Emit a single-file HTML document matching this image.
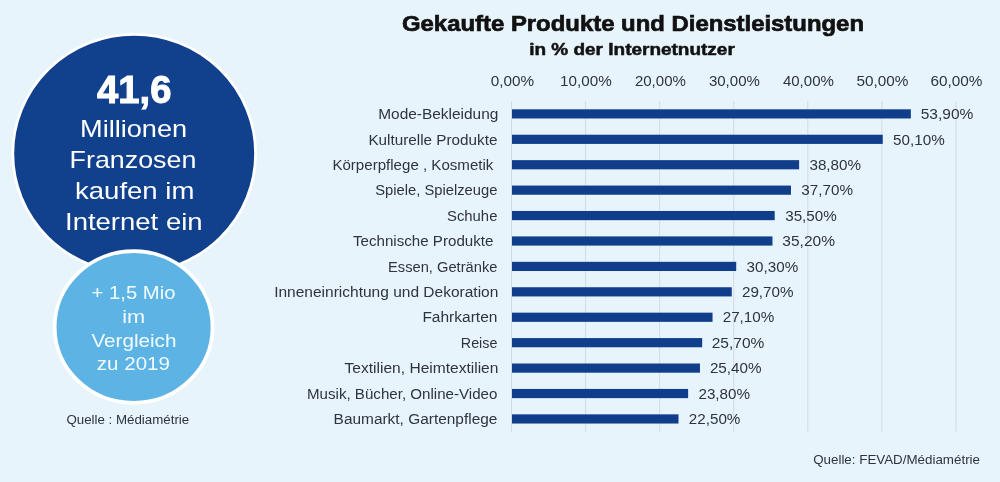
<!DOCTYPE html>
<html><head><meta charset="utf-8"><style>
html,body{margin:0;padding:0;}
body{width:1000px;height:482px;overflow:hidden;background:#e8f4fc;font-family:"Liberation Sans",sans-serif;}
svg{position:absolute;left:0;top:0;will-change:transform;}
</style></head><body>
<svg width="1000" height="482" viewBox="0 0 1000 482" font-family="Liberation Sans">
<rect width="1000" height="482" fill="#e8f4fc"/>
<g><line x1="511.5" y1="101" x2="511.5" y2="431.5" stroke="#d3d9e0" stroke-width="1"/>
<line x1="585.58" y1="101" x2="585.58" y2="431.5" stroke="#d3d9e0" stroke-width="1"/>
<line x1="659.66" y1="101" x2="659.66" y2="431.5" stroke="#d3d9e0" stroke-width="1"/>
<line x1="733.74" y1="101" x2="733.74" y2="431.5" stroke="#d3d9e0" stroke-width="1"/>
<line x1="807.8199999999999" y1="101" x2="807.8199999999999" y2="431.5" stroke="#d3d9e0" stroke-width="1"/>
<line x1="881.9" y1="101" x2="881.9" y2="431.5" stroke="#d3d9e0" stroke-width="1"/>
<line x1="955.98" y1="101" x2="955.98" y2="431.5" stroke="#d3d9e0" stroke-width="1"/>
</g>
<g fill="#113e8b"><rect x="512" y="109.30" width="398.86" height="9.2"/>
<rect x="512" y="134.72" width="370.74" height="9.2"/>
<rect x="512" y="160.14" width="287.12" height="9.2"/>
<rect x="512" y="185.56" width="278.98" height="9.2"/>
<rect x="512" y="210.98" width="262.70" height="9.2"/>
<rect x="512" y="236.40" width="260.48" height="9.2"/>
<rect x="512" y="261.82" width="224.22" height="9.2"/>
<rect x="512" y="287.24" width="219.78" height="9.2"/>
<rect x="512" y="312.66" width="200.54" height="9.2"/>
<rect x="512" y="338.08" width="190.18" height="9.2"/>
<rect x="512" y="363.50" width="187.96" height="9.2"/>
<rect x="512" y="388.92" width="176.12" height="9.2"/>
<rect x="512" y="414.34" width="166.50" height="9.2"/>
</g>
<ellipse cx="134.2" cy="153.6" rx="121.4" ry="119.2" fill="#11418d" stroke="#ffffff" stroke-width="2.8"/>
<ellipse cx="133.6" cy="327" rx="78.95" ry="75.9" fill="#5db4e4" stroke="#ffffff" stroke-width="3.8"/>
<text x="378.20" y="119.10" textLength="120.20" lengthAdjust="spacingAndGlyphs" font-size="14" fill="#2f343a">Mode-Bekleidung</text>
<text x="920.72" y="119.10" textLength="52.60" lengthAdjust="spacingAndGlyphs" font-size="14" fill="#2f343a">53,90%</text>
<text x="368.40" y="144.52" textLength="129.00" lengthAdjust="spacingAndGlyphs" font-size="14" fill="#2f343a">Kulturelle Produkte</text>
<text x="893.08" y="144.52" textLength="51.60" lengthAdjust="spacingAndGlyphs" font-size="14" fill="#2f343a">50,10%</text>
<text x="332.40" y="169.94" textLength="161.00" lengthAdjust="spacingAndGlyphs" font-size="14" fill="#2f343a">Körperpflege , Kosmetik</text>
<text x="809.44" y="169.94" textLength="51.60" lengthAdjust="spacingAndGlyphs" font-size="14" fill="#2f343a">38,80%</text>
<text x="375.20" y="195.36" textLength="122.20" lengthAdjust="spacingAndGlyphs" font-size="14" fill="#2f343a">Spiele, Spielzeuge</text>
<text x="801.36" y="195.36" textLength="51.60" lengthAdjust="spacingAndGlyphs" font-size="14" fill="#2f343a">37,70%</text>
<text x="447.00" y="220.78" textLength="50.40" lengthAdjust="spacingAndGlyphs" font-size="14" fill="#2f343a">Schuhe</text>
<text x="785.20" y="220.78" textLength="51.60" lengthAdjust="spacingAndGlyphs" font-size="14" fill="#2f343a">35,50%</text>
<text x="353.00" y="246.20" textLength="140.40" lengthAdjust="spacingAndGlyphs" font-size="14" fill="#2f343a">Technische Produkte</text>
<text x="782.36" y="246.20" textLength="52.60" lengthAdjust="spacingAndGlyphs" font-size="14" fill="#2f343a">35,20%</text>
<text x="388.00" y="271.62" textLength="109.40" lengthAdjust="spacingAndGlyphs" font-size="14" fill="#2f343a">Essen, Getränke</text>
<text x="746.64" y="271.62" textLength="51.60" lengthAdjust="spacingAndGlyphs" font-size="14" fill="#2f343a">30,30%</text>
<text x="274.20" y="297.04" textLength="224.20" lengthAdjust="spacingAndGlyphs" font-size="14" fill="#2f343a">Inneneinrichtung und Dekoration</text>
<text x="741.96" y="297.04" textLength="51.60" lengthAdjust="spacingAndGlyphs" font-size="14" fill="#2f343a">29,70%</text>
<text x="422.40" y="322.46" textLength="75.00" lengthAdjust="spacingAndGlyphs" font-size="14" fill="#2f343a">Fahrkarten</text>
<text x="722.68" y="322.46" textLength="51.60" lengthAdjust="spacingAndGlyphs" font-size="14" fill="#2f343a">27,10%</text>
<text x="460.80" y="347.88" textLength="36.60" lengthAdjust="spacingAndGlyphs" font-size="14" fill="#2f343a">Reise</text>
<text x="711.76" y="347.88" textLength="52.60" lengthAdjust="spacingAndGlyphs" font-size="14" fill="#2f343a">25,70%</text>
<text x="344.60" y="373.30" textLength="153.80" lengthAdjust="spacingAndGlyphs" font-size="14" fill="#2f343a">Textilien, Heimtextilien</text>
<text x="709.92" y="373.30" textLength="51.60" lengthAdjust="spacingAndGlyphs" font-size="14" fill="#2f343a">25,40%</text>
<text x="307.00" y="398.72" textLength="190.40" lengthAdjust="spacingAndGlyphs" font-size="14" fill="#2f343a">Musik, Bücher, Online-Video</text>
<text x="698.44" y="398.72" textLength="51.60" lengthAdjust="spacingAndGlyphs" font-size="14" fill="#2f343a">23,80%</text>
<text x="333.60" y="424.14" textLength="163.80" lengthAdjust="spacingAndGlyphs" font-size="14" fill="#2f343a">Baumarkt, Gartenpflege</text>
<text x="688.80" y="424.14" textLength="51.60" lengthAdjust="spacingAndGlyphs" font-size="14" fill="#2f343a">22,50%</text>
<text x="490.70" y="86.00" textLength="43.40" lengthAdjust="spacingAndGlyphs" font-size="14" fill="#2f343a">0,00%</text>
<text x="560.10" y="86.00" textLength="51.60" lengthAdjust="spacingAndGlyphs" font-size="14" fill="#2f343a">10,00%</text>
<text x="634.90" y="86.00" textLength="51.00" lengthAdjust="spacingAndGlyphs" font-size="14" fill="#2f343a">20,00%</text>
<text x="708.90" y="86.00" textLength="51.00" lengthAdjust="spacingAndGlyphs" font-size="14" fill="#2f343a">30,00%</text>
<text x="782.90" y="86.00" textLength="51.00" lengthAdjust="spacingAndGlyphs" font-size="14" fill="#2f343a">40,00%</text>
<text x="856.40" y="86.00" textLength="52.00" lengthAdjust="spacingAndGlyphs" font-size="14" fill="#2f343a">50,00%</text>
<text x="930.40" y="86.00" textLength="52.00" lengthAdjust="spacingAndGlyphs" font-size="14" fill="#2f343a">60,00%</text>
<text x="402.00" y="31.30" textLength="462.00" lengthAdjust="spacingAndGlyphs" font-size="22.5" font-weight="bold" fill="#111" stroke="#111" stroke-width="0.7">Gekaufte Produkte und Dienstleistungen</text>
<text x="529.20" y="54.80" textLength="205.60" lengthAdjust="spacingAndGlyphs" font-size="16.5" font-weight="bold" fill="#111" stroke="#111" stroke-width="0.5">in % der Internetnutzer</text>
<text x="97.00" y="103.40" textLength="74.40" lengthAdjust="spacingAndGlyphs" font-size="38" font-weight="bold" fill="#fff" stroke="#fff" stroke-width="1">41,6</text>
<text x="80.00" y="136.60" textLength="107.20" lengthAdjust="spacingAndGlyphs" font-size="24" fill="#fff">Millionen</text>
<text x="69.60" y="168.00" textLength="126.80" lengthAdjust="spacingAndGlyphs" font-size="24" fill="#fff">Franzosen</text>
<text x="75.00" y="198.70" textLength="119.40" lengthAdjust="spacingAndGlyphs" font-size="24" fill="#fff">kaufen im</text>
<text x="65.00" y="230.20" textLength="137.60" lengthAdjust="spacingAndGlyphs" font-size="24" fill="#fff">Internet ein</text>
<text x="91.60" y="299.20" textLength="83.80" lengthAdjust="spacingAndGlyphs" font-size="18.5" fill="#f2fbff">+ 1,5 Mio</text>
<text x="122.20" y="322.70" textLength="23.00" lengthAdjust="spacingAndGlyphs" font-size="18.5" fill="#f2fbff">im</text>
<text x="91.40" y="346.80" textLength="85.00" lengthAdjust="spacingAndGlyphs" font-size="18.5" fill="#f2fbff">Vergleich</text>
<text x="96.80" y="370.10" textLength="73.20" lengthAdjust="spacingAndGlyphs" font-size="18.5" fill="#f2fbff">zu 2019</text>
<text x="66.40" y="423.80" textLength="122.80" lengthAdjust="spacingAndGlyphs" font-size="13" fill="#2f343a">Quelle : Médiamétrie</text>
<text x="813.20" y="464.00" textLength="166.80" lengthAdjust="spacingAndGlyphs" font-size="13" fill="#2f343a">Quelle: FEVAD/Médiamétrie</text>

</svg>
</body></html>
